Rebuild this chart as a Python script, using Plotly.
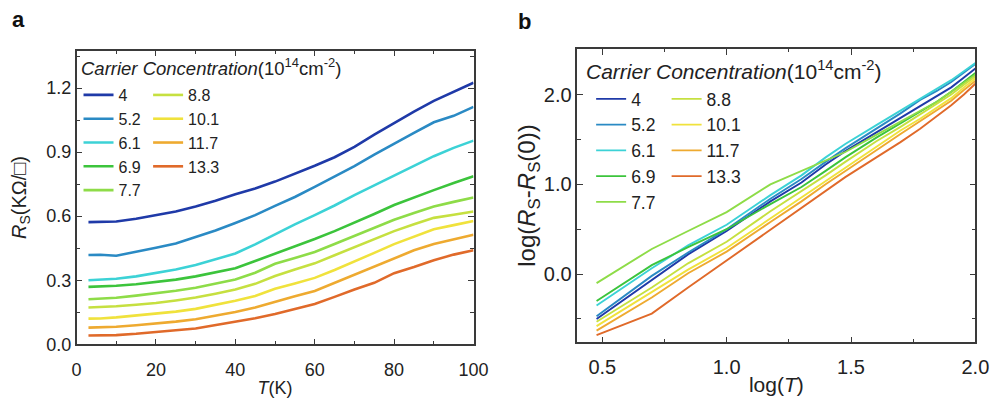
import plotly.graph_objects as go

# Carrier concentrations (10^14 cm^-2) and their line colours
concentrations = ["4", "5.2", "6.1", "6.9", "7.7", "8.8", "10.1", "11.7", "13.3"]
colors = ["#1f3aa8", "#2a8ac4", "#3cd2d6", "#3cc43c", "#8edc48",
          "#c6e040", "#f0e23c", "#eeaa30", "#e06a2a"]

# Panel a: sheet resistance vs temperature
temperature = [3, 6, 10, 15, 20, 25, 30, 35, 40, 45, 50, 55, 60, 65, 70, 75, 80, 85, 90, 95, 100]
rs_4 = [0.572, 0.572, 0.575, 0.588, 0.605, 0.622, 0.645, 0.672, 0.703, 0.730, 0.762, 0.798,
        0.836, 0.876, 0.925, 0.982, 1.038, 1.090, 1.140, 1.183, 1.225]
rs_5_2 = [0.418, 0.419, 0.415, 0.432, 0.452, 0.472, 0.501, 0.533, 0.568, 0.605, 0.648, 0.690,
          0.737, 0.785, 0.834, 0.888, 0.940, 0.990, 1.040, 1.070, 1.112]
rs_6_1 = [0.300, 0.302, 0.307, 0.318, 0.333, 0.350, 0.371, 0.397, 0.425, 0.468, 0.515, 0.562,
          0.605, 0.650, 0.699, 0.745, 0.790, 0.836, 0.881, 0.920, 0.954]
rs_6_9 = [0.269, 0.270, 0.274, 0.281, 0.291, 0.303, 0.318, 0.336, 0.356, 0.390, 0.424, 0.460,
          0.493, 0.530, 0.569, 0.610, 0.652, 0.688, 0.722, 0.755, 0.787]
rs_7_7 = [0.211, 0.213, 0.218, 0.228, 0.239, 0.251, 0.265, 0.283, 0.303, 0.335, 0.377, 0.404,
          0.432, 0.470, 0.508, 0.545, 0.583, 0.615, 0.645, 0.667, 0.688]
rs_8_8 = [0.172, 0.174, 0.178, 0.185, 0.193, 0.205, 0.219, 0.237, 0.257, 0.283, 0.320, 0.350,
          0.379, 0.417, 0.455, 0.493, 0.530, 0.562, 0.592, 0.607, 0.622]
rs_10_1 = [0.120, 0.121, 0.126, 0.134, 0.143, 0.153, 0.166, 0.184, 0.204, 0.226, 0.260, 0.285,
           0.311, 0.348, 0.387, 0.428, 0.469, 0.505, 0.539, 0.558, 0.577]
rs_11_7 = [0.078, 0.079, 0.082, 0.089, 0.097, 0.106, 0.117, 0.133, 0.151, 0.172, 0.200, 0.225,
           0.250, 0.288, 0.326, 0.364, 0.400, 0.440, 0.470, 0.490, 0.513]
rs_13_3 = [0.041, 0.041, 0.043, 0.049, 0.059, 0.066, 0.074, 0.090, 0.105, 0.122, 0.142, 0.165,
           0.189, 0.222, 0.257, 0.288, 0.333, 0.362, 0.394, 0.420, 0.440]
rs_series = [rs_4, rs_5_2, rs_6_1, rs_6_9, rs_7_7, rs_8_8, rs_10_1, rs_11_7, rs_13_3]

# Panel b: log(Rs - Rs(0)) vs log(T)
log_t = [0.477, 0.699, 0.845, 1.0, 1.176, 1.301, 1.398, 1.477, 1.602, 1.699, 1.778, 1.845, 1.903, 1.954, 2.0]
lg_4 = [-0.50, -0.06, 0.22, 0.48, 0.81, 1.02, 1.22, 1.37, 1.58, 1.74, 1.87, 1.98, 2.08, 2.19, 2.29]
lg_5_2 = [-0.47, -0.02, 0.24, 0.50, 0.84, 1.06, 1.25, 1.40, 1.62, 1.79, 1.94, 2.04, 2.14, 2.24, 2.34]
lg_6_1 = [-0.35, 0.065, 0.32, 0.55, 0.88, 1.10, 1.30, 1.45, 1.66, 1.82, 1.95, 2.06, 2.16, 2.26, 2.35]
lg_6_9 = [-0.30, 0.10, 0.30, 0.50, 0.78, 0.97, 1.15, 1.30, 1.52, 1.68, 1.81, 1.92, 2.03, 2.14, 2.24]
lg_7_7 = [-0.10, 0.28, 0.48, 0.69, 1.00, 1.15, 1.27, 1.36, 1.55, 1.70, 1.82, 1.92, 2.03, 2.13, 2.22]
lg_8_8 = [-0.53, -0.15, 0.12, 0.36, 0.70, 0.92, 1.10, 1.25, 1.48, 1.64, 1.78, 1.89, 2.00, 2.11, 2.20]
lg_10_1 = [-0.58, -0.20, 0.05, 0.29, 0.62, 0.85, 1.04, 1.19, 1.42, 1.60, 1.73, 1.85, 1.96, 2.08, 2.18]
lg_11_7 = [-0.63, -0.26, 0.01, 0.25, 0.58, 0.81, 1.00, 1.15, 1.38, 1.56, 1.70, 1.82, 1.93, 2.05, 2.15]
lg_13_3 = [-0.68, -0.44, -0.15, 0.15, 0.50, 0.74, 0.93, 1.08, 1.30, 1.47, 1.62, 1.76, 1.88, 2.00, 2.12]
lg_series = [lg_4, lg_5_2, lg_6_1, lg_6_9, lg_7_7, lg_8_8, lg_10_1, lg_11_7, lg_13_3]

W, H = 1008, 405
FONT = "Liberation Sans, Arial, sans-serif"
AXIS_COLOR = "#3a3a3a"
TEXT_COLOR = "#222"

fig = go.Figure()

for i, (name, col) in enumerate(zip(concentrations, colors)):
    fig.add_trace(go.Scatter(
        x=temperature, y=rs_series[i], mode="lines", name=name,
        line=dict(color=col, width=2.6),
        xaxis="x", yaxis="y",
        legend="legend" if i < 5 else "legend2",
    ))
for i, (name, col) in enumerate(zip(concentrations, colors)):
    fig.add_trace(go.Scatter(
        x=log_t, y=lg_series[i], mode="lines", name=name,
        line=dict(color=col, width=1.9),
        xaxis="x2", yaxis="y2",
        legend="legend3" if i < 5 else "legend4",
    ))


def px_x(p):
    return p / W


def px_y(p):
    return 1 - p / H


def axis_style(tick_size, title_size):
    return dict(
        showline=True, linecolor=AXIS_COLOR, linewidth=1.5, mirror="allticks",
        ticks="inside", ticklen=6, tickwidth=1.3, tickcolor=AXIS_COLOR,
        showgrid=False, zeroline=False,
        tickfont=dict(family=FONT, size=tick_size, color=TEXT_COLOR),
        title_font=dict(family=FONT, size=title_size, color=TEXT_COLOR),
    )


minor_common = dict(ticks="inside", ticklen=3.5, tickwidth=1.2, tickcolor=AXIS_COLOR, showgrid=False)

fig.update_layout(
    width=W, height=H,
    margin=dict(l=0, r=0, t=0, b=0),
    paper_bgcolor="white", plot_bgcolor="white",
    font=dict(family=FONT, color=TEXT_COLOR),
    xaxis=dict(domain=[px_x(73), px_x(478)], range=[0, 100], tickmode="array",
               tickvals=[0, 20, 40, 60, 80, 100], ticktext=["0", "20", "40", "60", "80", "100"],
               minor=dict(dtick=10, **minor_common), ticklabelstandoff=8,
               title=dict(text="<i>T</i>(K)", standoff=3), anchor="y", **axis_style(18, 18)),
    yaxis=dict(domain=[px_y(353), px_y(52)], range=[0, 1.375], tickvals=[0, 0.3, 0.6, 0.9, 1.2],
               ticktext=["0.0", "0.3", "0.6", "0.9", "1.2"],
               minor=dict(tick0=0, dtick=0.15, **minor_common),
               title=dict(text="<i>R</i><sub>S</sub>(KΩ/□)", standoff=14), anchor="x",
               **axis_style(18, 20)),
    xaxis2=dict(domain=[px_x(584), px_x(990)], range=[0.4, 2.0], tickvals=[0.5, 1.0, 1.5, 2.0],
                ticktext=["0.5", "1.0", "1.5", "2.0"],
                minor=dict(tick0=0, dtick=0.25, **minor_common), ticklabelstandoff=6,
                title=dict(text="log(<i>T</i>)", standoff=0), anchor="y2", **axis_style(20, 21)),
    yaxis2=dict(domain=[px_y(351), px_y(50)], range=[-0.76, 2.51], tickvals=[0.0, 1.0, 2.0],
                ticktext=["0.0", "1.0", "2.0"],
                minor=dict(tick0=0, dtick=0.5, **minor_common),
                title=dict(text="log(<i>R</i><sub>S</sub>-<i>R</i><sub>S</sub>(0))", standoff=0),
                anchor="x2", **axis_style(20, 24)),
)

legend_a = dict(font=dict(family=FONT, size=16, color=TEXT_COLOR), bgcolor="rgba(0,0,0,0)",
                borderwidth=0, xanchor="left", yanchor="top", itemwidth=30,
                tracegroupgap=0, orientation="v")
legend_b = dict(legend_a, font=dict(family=FONT, size=17.5, color=TEXT_COLOR))
fig.update_layout(
    legend=dict(legend_a, x=px_x(75), y=px_y(80)),
    legend2=dict(legend_a, x=px_x(146), y=px_y(80)),
    legend3=dict(legend_b, x=px_x(598), y=px_y(83)),
    legend4=dict(legend_b, x=px_x(675), y=px_y(83)),
)

legend_title = "<i>Carrier Concentration</i>(10<sup>14</sup>cm<sup>-2</sup>)"
fig.add_annotation(text=legend_title, xref="paper", yref="paper", x=px_x(76), y=px_y(69),
                   xanchor="left", yanchor="middle", showarrow=False,
                   font=dict(family=FONT, size=18.5, color=TEXT_COLOR))
fig.add_annotation(text=legend_title, xref="paper", yref="paper", x=px_x(591), y=px_y(72),
                   xanchor="left", yanchor="middle", showarrow=False,
                   font=dict(family=FONT, size=21, color=TEXT_COLOR))
fig.add_annotation(text="<b>a</b>", xref="paper", yref="paper", x=px_x(5), y=px_y(20),
                   xanchor="left", yanchor="middle", showarrow=False,
                   font=dict(family=FONT, size=22, color="#111"))
fig.add_annotation(text="<b>b</b>", xref="paper", yref="paper", x=px_x(521), y=px_y(22),
                   xanchor="left", yanchor="middle", showarrow=False,
                   font=dict(family=FONT, size=22, color="#111"))

fig.write_html("out.html")
